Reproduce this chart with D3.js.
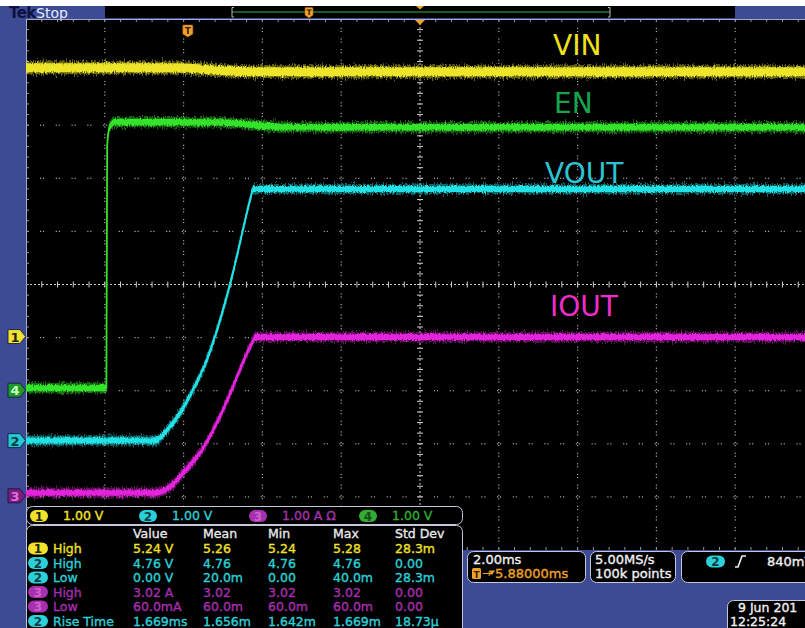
<!DOCTYPE html>
<html>
<head>
<meta charset="utf-8">
<script src="https://cdn.jsdelivr.net/npm/d3@7"></script>
<style>
  body { margin: 0; background: #fff; }
  svg { display: block; }
  text { font-family: "DejaVu Sans", sans-serif; }
  .rd { stroke-width: 0.35; paint-order: stroke; }
</style>
</head>
<body>
<script>
// ---- waveform data ----
// time in ms relative to trigger, amplitude in V (IOUT in A)
const vinTime  = [-4.12, -0.5, 1.6, 15.88];
const vinVal   = [5.06, 5.06, 4.985, 4.985];

const enTime   = [-4.12, -2.08, -2.06, -2.0, -1.85, 0.8, 2.6, 15.88];
const enVal    = [0.04, 0.04, 4.6, 4.95, 5.05, 5.04, 4.95, 4.95];

const voutTime = [-4.12, -0.845, -0.54, -0.21, 0.12, 0.47, 1.06, 1.59, 1.64, 15.88];
const voutVal  = [0.0, 0.0, 0.2, 0.52, 0.96, 1.52, 2.95, 4.6, 4.74, 4.74];

const ioutTime = [-4.12, -0.845, -0.46, -0.135, 0.3, 0.8, 1.13, 1.49, 1.65, 1.69, 15.88];
const ioutVal  = [0.06, 0.06, 0.17, 0.43, 0.81, 1.49, 2.05, 2.69, 2.93, 2.99, 2.99];

// channel setup: ground marker position (divisions from centre), scale per div
const chOffset = {1: -0.98, 2: -2.94, 3: -3.98, 4: -1.99};
const chScale  = {1: 1, 2: 1, 3: 1, 4: 1};

// readouts
const chRowLabels = ["1.00 V", "1.00 V", "1.00 A \u03a9", "1.00 V"];
const measHeader  = ["Value", "Mean", "Min", "Max", "Std Dev"];
const measChannel = [1, 2, 2, 3, 3, 2];
const measName    = ["High", "High", "Low", "High", "Low", "Rise Time"];
const measValue   = ["5.24 V", "4.76 V", "0.00 V", "3.02 A", "60.0mA", "1.669ms"];
const measMean    = ["5.26", "4.76", "20.0m", "3.02", "60.0m", "1.656m"];
const measMin     = ["5.24", "4.76", "0.00", "3.02", "60.0m", "1.642m"];
const measMax     = ["5.28", "4.76", "40.0m", "3.02", "60.0m", "1.669m"];
const measStd     = ["28.3m", "0.00", "28.3m", "0.00", "0.00", "18.73\u00b5"];

const width = 805, height = 628;
const gx0 = 26, gx1 = 814, gy0 = 19, gy1 = 550;
const horizPos = 5.88, msPerDiv = 2;

const blue = "#3d4b94";
const traceColor = {1: "#ece52a", 2: "#22e2e6", 3: "#e424dc", 4: "#34e42a"};
const panelColor = {1: "#f0e22a", 2: "#2cd0d8", 3: "#a630b0", 4: "#2fae32"};

const svg = d3.select("body").append("svg")
    .attr("width", width)
    .attr("height", height);

const defs = svg.append("defs");
defs.append("clipPath").attr("id", "grat")
  .append("rect").attr("x", gx0).attr("y", gy0).attr("width", width - gx0).attr("height", gy1 - gy0);

// vertical-only jitter so flat traces look noisy and edges stay thin
function noiseFilter(id, scale, seed) {
  const f = defs.append("filter").attr("id", id)
      .attr("x", "-2%").attr("y", "-200%").attr("width", "104%").attr("height", "500%")
      .attr("color-interpolation-filters", "sRGB");
  f.append("feTurbulence").attr("type", "fractalNoise")
      .attr("baseFrequency", "0.9 0.25").attr("numOctaves", 2).attr("seed", seed).attr("result", "t");
  f.append("feColorMatrix").attr("in", "t").attr("type", "matrix")
      .attr("values", "1 0 0 0 0  0 0 0 0 0.5  0 0 0 0 0  0 0 0 0 1").attr("result", "m");
  f.append("feDisplacementMap").attr("in", "SourceGraphic").attr("in2", "m")
      .attr("scale", scale).attr("xChannelSelector", "G").attr("yChannelSelector", "R");
}
noiseFilter("noiseA", 10, 3);
noiseFilter("noiseB", 5, 7);

// background frame
svg.append("rect").attr("width", width).attr("height", height).attr("fill", "#fff");
svg.append("rect").attr("y", 6).attr("width", width).attr("height", height - 6).attr("fill", blue);
svg.append("rect").attr("x", gx0).attr("y", gy0).attr("width", width - gx0).attr("height", gy1 - gy0).attr("fill", "#000");

// ---- top status bar ----
svg.append("rect").attr("x", 105).attr("y", 6).attr("width", 630).attr("height", 12).attr("fill", "#000");
svg.append("text").attr("x", 9).attr("y", 18).attr("font-family", "'Liberation Sans', Arial, sans-serif")
    .attr("font-size", 15).attr("font-weight", "bold")
    .attr("fill", "#0c1240").attr("letter-spacing", -0.6).text("Tek");
svg.append("text").attr("x", 36).attr("y", 17.5).attr("font-family", "'Liberation Sans', Arial, sans-serif")
    .attr("font-size", 14).attr("fill", "#e6ecff").text("Stop");
svg.append("line").attr("x1", 232).attr("x2", 610).attr("y1", 12).attr("y2", 12)
    .attr("stroke", "#1f7a2e").attr("stroke-width", 1.5);
[232, 610].forEach(bx => {
  svg.append("path").attr("d", `M${bx + (bx < 400 ? 2 : -2)},7.5 H${bx} V17 H${bx + (bx < 400 ? 2 : -2)}`)
      .attr("fill", "none").attr("stroke", "#b8b8b8").attr("stroke-width", 1);
});

// ---- graticule ----
const divX = d3.scaleLinear().domain([-5, 5]).range([gx0, gx1]);
const divY = d3.scaleLinear().domain([-5, 5]).range([gy1, gy0]);
const x = d3.scaleLinear().domain([horizPos - 5 * msPerDiv, horizPos + 5 * msPerDiv]).range([gx0, gx1]);

const grid = svg.append("g").attr("clip-path", "url(#grat)");
const minorX = d3.range(-25, 26).map(i => i / 5);
const minorY = d3.range(-25, 26).map(i => i / 5);
const majors = d3.range(-4, 5).filter(k => k !== 0);
const dotColor = "#a8a8a8";

majors.forEach(k => {
  [-1.8, 1.2].forEach(off => {
    grid.selectAll(null).data(minorY).join("rect")
        .attr("x", divX(k) - 0.6).attr("y", d => divY(d) + off)
        .attr("width", 1.2).attr("height", 1.2).attr("fill", dotColor);
    grid.selectAll(null).data(minorX).join("rect")
        .attr("x", d => divX(d) + off).attr("y", divY(k) - 0.6)
        .attr("width", 1.2).attr("height", 1.2).attr("fill", dotColor);
  });
});

// centre crosshair with tick marks
grid.append("line").attr("x1", gx0).attr("x2", gx1).attr("y1", divY(0)).attr("y2", divY(0))
    .attr("stroke", "#c4c4c4").attr("stroke-dasharray", "2,2");
grid.append("line").attr("x1", divX(0)).attr("x2", divX(0)).attr("y1", gy0).attr("y2", gy1)
    .attr("stroke", "#c4c4c4").attr("stroke-dasharray", "2,2");
grid.selectAll(null).data(minorX).join("line")
    .attr("x1", d => divX(d)).attr("x2", d => divX(d))
    .attr("y1", divY(0) - 3).attr("y2", divY(0) + 3).attr("stroke", "#cfcfcf");
grid.selectAll(null).data(minorY).join("line")
    .attr("y1", d => divY(d)).attr("y2", d => divY(d))
    .attr("x1", divX(0) - 3).attr("x2", divX(0) + 3).attr("stroke", "#cfcfcf");

// border with ticks
svg.append("line").attr("x1", gx0).attr("x2", width).attr("y1", gy0 + 0.5).attr("y2", gy0 + 0.5).attr("stroke", "#a3abc8");
svg.append("line").attr("x1", gx0 + 0.5).attr("x2", gx0 + 0.5).attr("y1", gy0).attr("y2", gy1).attr("stroke", "#a3abc8");
grid.selectAll(null).data(minorX).join("line")
    .attr("x1", d => divX(d)).attr("x2", d => divX(d))
    .attr("y1", gy0).attr("y2", gy0 + 3).attr("stroke", "#9098b0");
grid.selectAll(null).data(minorX).join("line")
    .attr("x1", d => divX(d)).attr("x2", d => divX(d))
    .attr("y1", gy1 - 3).attr("y2", gy1).attr("stroke", "#9098b0");
grid.selectAll(null).data(minorY).join("line")
    .attr("y1", d => divY(d)).attr("y2", d => divY(d))
    .attr("x1", gx0).attr("x2", gx0 + 3).attr("stroke", "#9098b0");

// ---- traces ----
const traces = [
  {ch: 1, time: vinTime, val: vinVal, h: 5},
  {ch: 4, time: enTime, val: enVal, h: 3.8},
  {ch: 2, time: voutTime, val: voutVal, h: 3.5},
  {ch: 3, time: ioutTime, val: ioutVal, h: 3.5}
];
const tg = svg.append("g").attr("clip-path", "url(#grat)");
traces.forEach(tr => {
  const pts = tr.time.map((t, i) => [x(t), divY(tr.val[i] / chScale[tr.ch] + chOffset[tr.ch])]);
  const band = h => d3.area().x(d => d[0]).y0(d => d[1] - h).y1(d => d[1] + h).curve(d3.curveMonotoneX)(pts);
  tg.append("path").attr("d", band(tr.h + 1.5)).attr("fill", traceColor[tr.ch])
      .attr("opacity", 0.45).attr("filter", "url(#noiseA)");
  tg.append("path").attr("d", band(tr.h - 0.5)).attr("fill", traceColor[tr.ch])
      .attr("filter", "url(#noiseB)");
  tg.append("path").attr("d", d3.line().curve(d3.curveMonotoneX)(pts))
      .attr("fill", "none").attr("stroke", traceColor[tr.ch]).attr("stroke-width", 1.8);
});

// ---- trace names ----
const names = [
  {t: "VIN", x: 553, y: 55, c: "#efe21c"},
  {t: "EN", x: 554, y: 113, c: "#14a54e"},
  {t: "VOUT", x: 545, y: 183, c: "#2cc3d2"},
  {t: "IOUT", x: 550, y: 316, c: "#f02cc8"}
];
svg.selectAll(null).data(names).join("text")
    .attr("x", d => d.x).attr("y", d => d.y).attr("fill", d => d.c)
    .attr("font-family", "'Liberation Sans', Arial, sans-serif").attr("font-size", 28)
    .text(d => d.t);

// ---- trigger markers ----
function tMarker(cx, top, w, h) {
  svg.append("path")
      .attr("d", `M${cx - w / 2},${top + 1} Q${cx - w / 2},${top} ${cx - w / 2 + 1},${top} H${cx + w / 2 - 1} Q${cx + w / 2},${top} ${cx + w / 2},${top + 1} V${top + h - 3} L${cx},${top + h} L${cx - w / 2},${top + h - 3} Z`)
      .attr("fill", "#f0a22c").attr("stroke", "#b86a10").attr("stroke-width", 0.6);
  svg.append("text").attr("x", cx).attr("y", top + h - 3).attr("text-anchor", "middle")
      .attr("font-size", h - 3).attr("font-weight", "bold").attr("fill", "#3a2000").text("T");
}
tMarker(x(0) - 0.5, 25, 10, 12);
tMarker(309, 7.5, 8, 10.5);
svg.append("path").attr("d", `M${divX(0) - 4},6 H${divX(0) + 4} L${divX(0)},9.5 Z`).attr("fill", "#f0a22c");
svg.append("path").attr("d", `M${divX(0) - 5},${gy0 + 1} H${divX(0) + 5} L${divX(0)},${gy0 + 6} Z`).attr("fill", "#f0a22c");

// ---- channel ground markers ----
const gndFill = {1: "#efe035", 2: "#25c9d2", 3: "#7a1c7c", 4: "#1f9a2a"};
const gndText = {1: "#2a2600", 2: "#0b3e44", 3: "#e070e0", 4: "#c8ffc0"};
[1, 4, 2, 3].forEach(ch => {
  const cy = divY(chOffset[ch]);
  svg.append("path").attr("d", `M8,${cy - 7} H20 L25.5,${cy} L20,${cy + 7} H8 Z`)
      .attr("fill", gndFill[ch]).attr("stroke", "#10103a").attr("stroke-width", 0.8);
  svg.append("text").attr("x", 15).attr("y", cy + 5).attr("text-anchor", "middle")
      .attr("font-size", 13).attr("font-weight", "bold").attr("fill", gndText[ch]).text(ch);
});

// ---- readout panels ----
function box(x0, y0, w, h) {
  svg.append("rect").attr("x", x0 + 0.5).attr("y", y0 + 0.5).attr("width", w).attr("height", h)
      .attr("rx", 6).attr("fill", "#000").attr("stroke", "#c4c8d8").attr("stroke-width", 1);
}
function badge(cx, cy, ch, w = 18, h = 12) {
  svg.append("rect").attr("x", cx - w / 2).attr("y", cy - h / 2).attr("width", w).attr("height", h)
      .attr("rx", h / 2).attr("fill", panelColor[ch]);
  svg.append("text").attr("x", cx).attr("y", cy + 4.5).attr("text-anchor", "middle")
      .attr("font-size", 12).attr("font-weight", "bold")
      .attr("fill", ch === 1 ? "#222" : ch === 2 ? "#0d3d44" : ch === 3 ? "#d060d0" : "#1a4a1a").text(ch);
}
function readout(x0, y0, txt, col, size = 12.5) {
  return svg.append("text").attr("class", "rd").attr("x", x0).attr("y", y0)
      .attr("font-size", size).attr("fill", col).attr("stroke", col).text(txt);
}

// channel scale row
box(26, 506, 436, 18);
const chRowX = [39, 148, 258, 368];
chRowLabels.forEach((lab, i) => {
  badge(chRowX[i], 516, i + 1);
  readout(chRowX[i] + 24, 520, lab, panelColor[i + 1]);
});

// measurement table
box(26, 525, 436, 110);
const colX = [133, 203, 268, 333, 395];
measHeader.forEach((h, i) => readout(colX[i], 538, h, "#e8e8e8"));
const rowY = d3.range(measName.length).map(i => 553 + i * 14.5);
measName.forEach((nm, r) => {
  const ch = measChannel[r];
  const col = ch === 3 ? "#a62eae" : panelColor[ch];
  badge(38, rowY[r] - 4.5, ch, 20, 12);
  const cells = [nm, measValue[r], measMean[r], measMin[r], measMax[r], measStd[r]];
  cells.forEach((c, i) => readout(i === 0 ? 53 : colX[i - 1], rowY[r], c, col));
});

// timebase
box(467, 551, 118, 31);
readout(473, 564, "2.00ms", "#f0f0f0", 13);
svg.append("rect").attr("x", 472).attr("y", 568).attr("width", 9).attr("height", 11).attr("rx", 1.5).attr("fill", "#f0a22c");
svg.append("text").attr("x", 476.5).attr("y", 577.5).attr("text-anchor", "middle").attr("font-size", 9)
    .attr("font-weight", "bold").attr("fill", "#3a2000").text("T");
svg.append("text").attr("x", 482).attr("y", 577).attr("font-size", 11).attr("fill", "#f0a22c").text("\u2192");
svg.append("path").attr("d", "M489,570.5 H495 L492,575 Z").attr("fill", "#f0a22c");
readout(495, 578, "5.88000ms", "#f0a22c", 13);

// acquisition
box(590, 551, 85, 31);
readout(595, 564, "5.00MS/s", "#f0f0f0", 13);
readout(595, 578, "100k points", "#f0f0f0", 13);

// trigger
box(681, 551, 140, 31);
badge(715.5, 561.5, 2, 19, 12);
svg.append("path").attr("d", "M735,567 H738 L742,556 H746").attr("fill", "none")
    .attr("stroke", "#f0f0f0").attr("stroke-width", 1.6);
readout(767, 566, "840mV", "#f0f0f0", 13);

// date / time
box(727, 600, 100, 40);
readout(738, 612, "9 Jun 201", "#f0f0f0", 12.5);
readout(730, 626, "12:25:24", "#f0f0f0", 12.5);
</script>
</body>
</html>
